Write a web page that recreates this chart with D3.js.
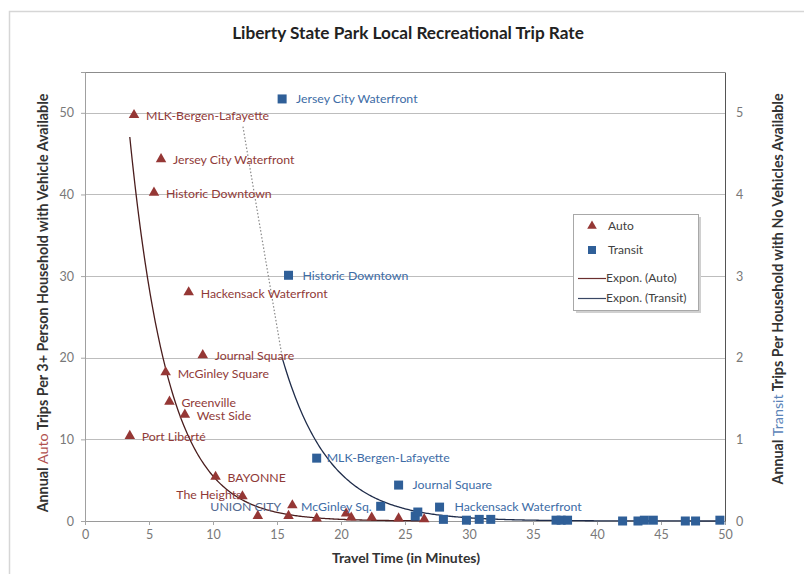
<!DOCTYPE html>
<html>
<head>
<meta charset="utf-8">
<script src="https://cdn.jsdelivr.net/npm/d3@7"></script>
<style>
  body { margin: 0; background: #fff; }
  svg { font-family: Lato, "Open Sans", sans-serif; }
</style>
</head>
<body>
<div id="chart"></div>
<script>
"use strict";

// auto trips (left axis)
var autoNames = ["MLK-Bergen-Lafayette","Jersey City Waterfront","Historic Downtown","Hackensack Waterfront",
    "Journal Square","McGinley Square","Greenville","West Side","Port Libert\u00e9","BAYONNE","The Heights",
    "UNION CITY","","","","","","","",""];
var autoTime  = [3.83,5.94,5.39,8.1,9.2,6.3,6.6,7.8,3.5,10.2,12.3,13.5,15.9,16.2,18.1,20.4,20.8,22.4,24.5,26.5];
var autoTrips = [49.6,44.2,40.1,27.9,20.2,18.1,14.5,12.9,10.3,5.3,2.9,0.5,0.5,1.8,0.2,0.8,0.3,0.3,0.2,0.1];

// transit trips (right axis)
var transitNames = ["Jersey City Waterfront","Historic Downtown","MLK-Bergen-Lafayette","Journal Square","McGinley Sq.",
    "","","Hackensack Waterfront","","","","","","","","","","","","","",""];
var transitTime  = [15.4,15.9,18.1,24.5,23.1,25.8,26.0,27.7,28.0,29.8,30.8,31.7,36.8,37.2,37.7,42.0,43.2,43.7,44.4,46.9,47.7,49.6];
var transitTrips = [5.17,3.01,0.77,0.44,0.18,0.06,0.11,0.17,0.02,0.01,0.02,0.02,0.01,0.01,0.01,0,0,0.01,0.01,0,0,0.01];

// exponential trendlines y = a * exp(b * x)
var autoTrend = [149.3, -0.33];
var transitTrend = [128, -0.27];
var transitTrendExt = [[12.34, 4.83], [15.4, 2.01]];

var xTicks = [0,5,10,15,20,25,30,35,40,45,50];
var leftTicks = [0,10,20,30,40,50];
var rightTicks = [0,1,2,3,4,5];

var autoCol = "#953735", transitCol = "#2f5f98";
var autoText = "#8f3a38", transitText = "#3d6ca6";

var W = 804, H = 574;
var svg = d3.select("#chart").append("svg").attr("width", W).attr("height", H);

// outer chart frame
svg.append("rect").attr("x", 9.5).attr("y", 11.5).attr("width", 820).attr("height", 600)
    .attr("fill", "none").attr("stroke", "#d6d6d6").attr("stroke-width", 1.5);

var x = d3.scaleLinear().domain([0, 50]).range([85, 725]);
var yL = d3.scaleLinear().domain([0, 55]).range([521, 72]);
var yR = d3.scaleLinear().domain([0, 5.5]).range([521, 72]);

// gridlines
svg.append("g").selectAll("line").data(leftTicks.slice(1)).enter().append("line")
    .attr("x1", 85).attr("x2", 725)
    .attr("y1", function(d){ return Math.round(yL(d)) + 0.5; })
    .attr("y2", function(d){ return Math.round(yL(d)) + 0.5; })
    .attr("stroke", "#bdbdbd").attr("stroke-width", 1);

// plot border top
svg.append("line").attr("x1", 85).attr("x2", 725).attr("y1", 72.5).attr("y2", 72.5)
    .attr("stroke", "#8c8c8c");

var xAxis = svg.append("g").attr("transform", "translate(0,521)")
    .call(d3.axisBottom(x).tickValues(xTicks).tickSize(4).tickPadding(5));
var leftAxis = svg.append("g").attr("transform", "translate(85,0)")
    .call(d3.axisLeft(yL).tickValues(leftTicks).tickSize(4).tickPadding(7));
var rightAxis = svg.append("g").attr("transform", "translate(725,0)")
    .call(d3.axisRight(yR).tickValues(rightTicks).tickFormat(d3.format("d")).tickSize(0).tickPadding(11));

[xAxis, leftAxis, rightAxis].forEach(function(g){
    g.selectAll("text").attr("font-size", 12.5).attr("fill", "#787878")
        .attr("font-family", "Lato, sans-serif");
    g.selectAll("line").attr("stroke", "#a6a6a6");
});
xAxis.select(".domain").attr("stroke", "#9a9a9a");
leftAxis.select(".domain").attr("stroke", "#a0a0a0");
rightAxis.select(".domain").attr("stroke", "#555");

// trendlines
var autoXs = d3.range(d3.min(autoTime), d3.max(autoTime) + 0.01, 0.1);
svg.append("path")
    .datum(autoXs)
    .attr("fill", "none").attr("stroke", "#4a1d1d").attr("stroke-width", 1.3)
    .attr("d", d3.line()
        .x(function(d){ return x(d); })
        .y(function(d){ return yL(autoTrend[0] * Math.exp(autoTrend[1] * d)); }));

svg.append("path")
    .datum(transitTrendExt)
    .attr("fill", "none").attr("stroke", "#8a8a8a").attr("stroke-width", 1.2)
    .attr("stroke-dasharray", "1.5,2")
    .attr("d", d3.line()
        .x(function(d){ return x(d[0]); })
        .y(function(d){ return yR(d[1]); }));

var transitXs = d3.range(d3.min(transitTime), d3.max(transitTime) + 0.01, 0.1);
svg.append("path")
    .datum(transitXs)
    .attr("fill", "none").attr("stroke", "#1f2c4a").attr("stroke-width", 1.3)
    .attr("d", d3.line()
        .x(function(d){ return x(d); })
        .y(function(d){ return yR(transitTrend[0] * Math.exp(transitTrend[1] * d)); }));

// markers
var tri = d3.symbol().type(d3.symbolTriangle).size(48);
svg.append("g").selectAll("path").data(autoTime).enter().append("path")
    .attr("d", tri)
    .attr("transform", function(d, i){ return "translate(" + x(d) + "," + (yL(autoTrips[i]) - 1) + ")"; })
    .attr("fill", autoCol);

svg.append("g").selectAll("rect").data(transitTime).enter().append("rect")
    .attr("x", function(d){ return x(d) - 4.5; })
    .attr("y", function(d, i){ return yR(transitTrips[i]) - 4.5; })
    .attr("width", 9).attr("height", 9)
    .attr("fill", transitCol);

// data labels: [dx, dy, anchor, colour]
var autoLabelPos = {
    "The Heights": [-1, -3, "end", autoText],
    "UNION CITY": [-12, -10, "middle", "#52688f"]
};
var transitLabelPos = {
    "McGinley Sq.": [-9, 0, "end", transitText],
    "MLK-Bergen-Lafayette": [10, 0, "start", transitText],
    "Hackensack Waterfront": [15, 0, "start", transitText]
};

var labels = svg.append("g").attr("font-size", 12.3);
autoNames.forEach(function(n, i){
    if (!n) return;
    var p = autoLabelPos[n] || [12, 0, "start", autoText];
    labels.append("text")
        .attr("x", x(autoTime[i]) + p[0])
        .attr("y", yL(autoTrips[i]) + p[1])
        .attr("dy", "0.35em")
        .attr("text-anchor", p[2])
        .attr("fill", p[3])
        .text(n);
});
transitNames.forEach(function(n, i){
    if (!n) return;
    var p = transitLabelPos[n] || [14, 0, "start", transitText];
    labels.append("text")
        .attr("x", x(transitTime[i]) + p[0])
        .attr("y", yR(transitTrips[i]) + p[1])
        .attr("dy", "0.35em")
        .attr("text-anchor", p[2])
        .attr("fill", p[3])
        .text(n);
});

// title & axis titles
svg.append("text").attr("x", 408).attr("y", 39).attr("text-anchor", "middle")
    .attr("font-size", 17.2).attr("font-weight", "bold").attr("fill", "#222")
    .text("Liberty State Park Local Recreational Trip Rate");

svg.append("text").attr("x", 406).attr("y", 563).attr("text-anchor", "middle")
    .attr("font-size", 14).attr("font-weight", "bold").attr("fill", "#333")
    .text("Travel Time (in Minutes)");

var lt = svg.append("text").attr("transform", "translate(48,303) rotate(-90)")
    .attr("text-anchor", "middle").attr("font-size", 14.3).attr("font-weight", "bold").attr("fill", "#333");
lt.append("tspan").text("Annual ");
lt.append("tspan").attr("fill", "#b0504e").attr("font-weight", "normal").text("Auto");
lt.append("tspan").text(" Trips Per  3+ Person Household with Vehicle Available");

var rt = svg.append("text").attr("transform", "translate(783,289) rotate(-90)")
    .attr("text-anchor", "middle").attr("font-size", 14.3).attr("font-weight", "bold").attr("fill", "#333");
rt.append("tspan").text("Annual ");
rt.append("tspan").attr("fill", "#5b84b8").attr("font-weight", "normal").text("Transit");
rt.append("tspan").text("  Trips Per Household with No Vehicles Available");

// legend
var leg = svg.append("g").attr("transform", "translate(573,214)");
leg.append("rect").attr("x", 3).attr("y", 3).attr("width", 125).attr("height", 96)
    .attr("fill", "#d0d0d0");
leg.append("rect").attr("x", 0.5).attr("y", 0.5).attr("width", 125).attr("height", 96)
    .attr("fill", "#fff").attr("stroke", "#a8a8a8");
leg.append("path").attr("d", d3.symbol().type(d3.symbolTriangle).size(40))
    .attr("transform", "translate(19,12)").attr("fill", autoCol);
leg.append("rect").attr("x", 15).attr("y", 32).attr("width", 8).attr("height", 8).attr("fill", transitCol);
leg.append("line").attr("x1", 5).attr("x2", 33).attr("y1", 64.5).attr("y2", 64.5)
    .attr("stroke", "#6b2f2f").attr("stroke-width", 1.2);
leg.append("line").attr("x1", 5).attr("x2", 33).attr("y1", 84.5).attr("y2", 84.5)
    .attr("stroke", "#3a4764").attr("stroke-width", 1.2);
var legText = [["Auto", 35, 12], ["Transit", 35, 36], ["Expon. (Auto)", 33, 64], ["Expon. (Transit)", 33, 84]];
legText.forEach(function(t){
    leg.append("text").attr("x", t[1]).attr("y", t[2]).attr("dy", "0.35em")
        .attr("font-size", 12).attr("fill", "#404040").text(t[0]);
});
</script>
</body>
</html>
